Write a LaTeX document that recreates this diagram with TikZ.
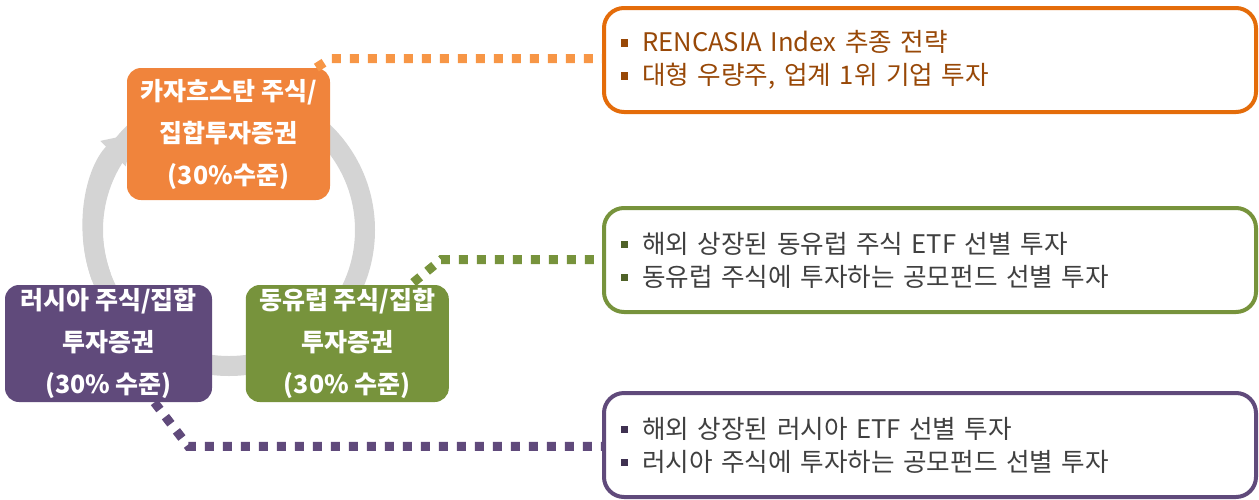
\documentclass[tikz,border=0pt]{standalone}
\usepackage{fontspec}
\setmainfont{Noto Sans CJK KR}
\usetikzlibrary{arrows.meta, positioning, calc}
\definecolor{kazfill}{RGB}{240,132,60}
\definecolor{kazline}{RGB}{228,108,10}
\definecolor{kazdot}{RGB}{247,150,70}
\definecolor{kaztext}{RGB}{152,72,7}
\definecolor{eeufill}{RGB}{119,147,60}
\definecolor{eeubul}{RGB}{79,98,40}
\definecolor{rusfill}{RGB}{96,74,123}
\definecolor{rusbul}{RGB}{63,49,81}
\definecolor{infotext}{RGB}{64,64,64}
\definecolor{ringgray}{RGB}{212,212,212}
\newcommand{\sqbul}[1]{\textcolor{#1}{\rule[0.2em]{0.28em}{0.28em}}\hspace{0.55em}}

\begin{document}
\begin{tikzpicture}[
        x=0.5pt, y=-0.5pt,
        box/.style={rectangle, rounded corners=7pt, minimum width=101.5pt, minimum height=58.5pt, inner sep=0pt, align=center, text=white, font=\fontsize{12.5}{21}\selectfont\bfseries},
        infobox/.style={rectangle, rounded corners=10pt, line width=2pt, fill=white, text width=309pt, inner xsep=8.5pt, minimum height=52pt, align=left, text=infotext, font=\fontsize{12.8}{16.5}\selectfont},
        dotline/.style={line width=4.5pt, dash pattern=on 4.5pt off 4.5pt},
        ring/.style={line width=10pt, ringgray}
    ]
        \useasboundingbox (0,0) rectangle (1259,499);

        \coordinate (hub) at (229,230);
        \draw[ring] (hub) circle[radius=136];
        \draw[ring, -{Triangle[width=17pt, length=14pt]}] (hub) ++(160:136) arc[start angle=160, end angle=225, radius=136];

        \node[box, fill=kazfill, minimum height=66pt] (kaz) at (228.5,134) {카자흐스탄 주식/\\집합투자증권\\(30\%수준)};
        \node[box, fill=rusfill, minimum width=103.5pt] (rus) at (108.5,343.5) {러시아 주식/집합\\투자증권\\(30\% 수준)};
        \node[box, fill=eeufill, right=16.5pt of rus] (eeu) {동유럽 주식/집합\\투자증권\\(30\% 수준)};

        \node[infobox, draw=kazline, text=kaztext] (kazinfo) at (930,60) {\sqbul{kaztext}RENCASIA Index 추종 전략\\\sqbul{kaztext}대형 우량주, 업계 1위 기업 투자};
        \node[infobox, draw=eeufill] (eeuinfo) at (930,260) {\sqbul{eeubul}해외 상장된 동유럽 주식 ETF 선별 투자\\\sqbul{eeubul}동유럽 주식에 투자하는 공모펀드 선별 투자};
        \node[infobox, draw=rusfill] (rusinfo) at (930,445) {\sqbul{rusbul}해외 상장된 러시아 ETF 선별 투자\\\sqbul{rusbul}러시아 주식에 투자하는 공모펀드 선별 투자};

        \draw[dotline, kazdot] (kaz.north east) ++(-14,0) -- ++(14,-9) coordinate (k1) -- (k1 -| kazinfo.west);
        \draw[dotline, eeufill] (eeu.north east) ++(-36,-2) -- ++(28,-23) coordinate (e1) -- (e1 -| eeuinfo.west);
        \draw[dotline, rusfill] (rus.south east) ++(-58,0) -- ++(34,44) coordinate (r1) -- (r1 -| rusinfo.west);
    \end{tikzpicture}
\end{document}
